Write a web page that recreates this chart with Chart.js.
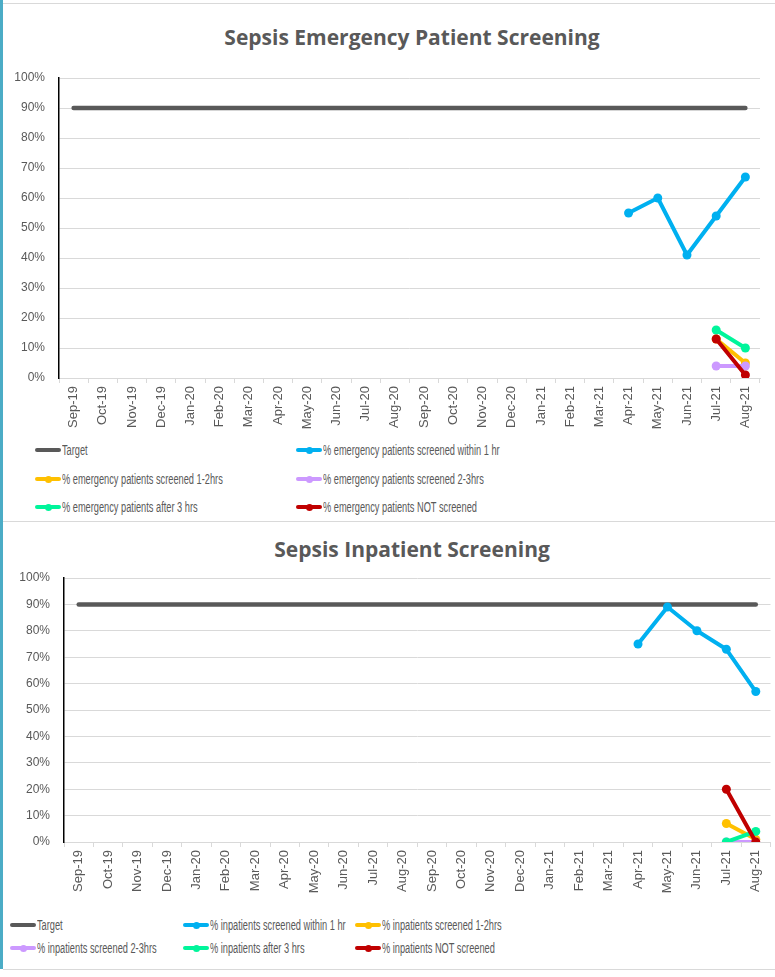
<!DOCTYPE html>
<html>
<head>
<meta charset="utf-8">
<script src="https://cdn.jsdelivr.net/npm/chart.js@4/dist/chart.umd.min.js"></script>
<style>
  html, body { margin: 0; padding: 0; background: #fff; }
  body { width: 775px; height: 977px; position: relative; overflow: hidden; font-family: "Liberation Sans", Arial, sans-serif; }
  .edge { position: absolute; left: 0; top: 0; width: 3px; height: 969px; background: #4bacc6; }
  .panel { position: absolute; left: 3px; width: 772px; border-top: 1px solid #d9d9d9; border-bottom: 1px solid #d9d9d9; box-sizing: border-box; }
  .title { position: absolute; left: 0; width: 824px; text-align: center; font-family: "Open Sans", Lato, sans-serif; font-weight: bold; font-size: 21px; color: #595959; white-space: nowrap; }
  canvas { position: absolute; left: 0; }
  .legend { position: absolute; font-size: 14px; color: #595959; }
  .item { position: absolute; white-space: nowrap; height: 16px; line-height: 16px; }
  .sw { position: absolute; left: 0; top: 6px; width: 26px; height: 4px; border-radius: 2px; }
  .sw i { position: absolute; left: 10px; top: -1.5px; width: 7px; height: 7px; border-radius: 50%; background: inherit; }
  .item span { position: absolute; left: 27px; top: 0; transform: scaleX(0.66); transform-origin: 0 50%; }
</style>
</head>
<body>
<div class="edge"></div>
<div class="panel" style="top:3px;height:519px;"></div>
<div class="panel" style="top:521px;height:449px;border-top:none;"></div>

<div class="title" style="top:23px;">Sepsis Emergency Patient Screening</div>
<canvas id="emergency" width="775" height="430" style="top:0;width:775px;height:430px;"></canvas>
<div class="legend" id="legendTop" style="left:0;top:0;"></div>

<div class="title" style="top:535px;">Sepsis Inpatient Screening</div>
<canvas id="inpatient" width="775" height="373" style="top:521px;width:775px;height:373px;"></canvas>
<div class="legend" id="legendBottom" style="left:0;top:0;"></div>

<script>
// Months on the x axis (shared by both charts)
const months = ["Sep-19","Oct-19","Nov-19","Dec-19","Jan-20","Feb-20","Mar-20","Apr-20","May-20","Jun-20","Jul-20","Aug-20",
                "Sep-20","Oct-20","Nov-20","Dec-20","Jan-21","Feb-21","Mar-21","Apr-21","May-21","Jun-21","Jul-21","Aug-21"];
const yTicks = [0,10,20,30,40,50,60,70,80,90,100];
const targetValue = 90;

// Emergency screening (%)
const emWithin1hr  = [55, 60, 41, 54, 67];   // Apr-21..Aug-21
const em1to2hrs    = [13, 5];                // Jul-21..Aug-21
const em2to3hrs    = [4, 4];
const emAfter3hrs  = [16, 10];
const emNotScreened= [13, 1];

// Inpatient screening (%)
const inWithin1hr  = [75, 89, 80, 73, 57];   // Apr-21..Aug-21
const in1to2hrs    = [7, 1];                 // Jul-21..Aug-21
const in2to3hrs    = [0, 0];
const inAfter3hrs  = [0, 4];
const inNotScreened= [20, 0];

const colors = {
  target: "#595959", within: "#00b0f0", h12: "#ffc000", h23: "#cc99ff", after3: "#00f59b", not: "#c00000"
};

function placeTail(values) {
  // values belong to the last N months
  const arr = new Array(months.length).fill(null);
  const start = months.length - values.length;
  values.forEach((v, i) => { arr[start + i] = v; });
  return arr;
}

// later series are painted over earlier ones
function series(label, data, color, layer, isTarget) {
  return {
    label, data, borderColor: color, backgroundColor: color,
    order: 10 - layer,
    borderWidth: isTarget ? 4.5 : 4,
    pointRadius: isTarget ? 0 : 4.5,
    pointHoverRadius: isTarget ? 0 : 4.5,
    pointBorderWidth: 0,
    borderCapStyle: "round", borderJoinStyle: "round",
    tension: 0, spanGaps: false
  };
}

const yFont = { family: "'Liberation Sans', Arial, sans-serif", size: 12 };
const xFont = { family: "'Liberation Sans', Arial, sans-serif", size: 13 };

function makeChart(id, datasets, yLeft, rightPad, topPad) {
  return new Chart(document.getElementById(id), {
    type: "line",
    data: { labels: months, datasets },
    options: {
      responsive: false, animation: false, events: [],
      layout: { padding: { left: 0, right: rightPad, top: topPad, bottom: 0 } },
      plugins: { legend: { display: false }, title: { display: false }, tooltip: { enabled: false } },
      scales: {
        x: {
          type: "category", offset: true,
          grid: { offset: true, drawOnChartArea: false, drawTicks: true, tickLength: 5, color: "#d9d9d9", lineWidth: 1 },
          border: { display: true, color: "#d9d9d9", width: 1 },
          ticks: { minRotation: 90, maxRotation: 90, autoSkip: false, padding: 3, color: "#595959", font: xFont },
          afterFit: s => { s.height = 52; }
        },
        y: {
          min: 0, max: 100,
          afterBuildTicks: s => { s.ticks = yTicks.map(v => ({ value: v })); },
          grid: { drawTicks: false, color: "#d9d9d9", lineWidth: 1 },
          border: { display: true, color: "#000000", width: 1.5 },
          ticks: { padding: 14, color: "#595959", font: yFont, callback: v => v + "%" },
          afterFit: s => { s.width = yLeft; }
        }
      }
    }
  });
}

const target = months.map(() => targetValue);

const emDatasets = [
  series("Target", target, colors.target, 0, true),
  series("% emergency patients screened within  1 hr", placeTail(emWithin1hr), colors.within, 1),
  series("% emergency patients screened 1-2hrs", placeTail(em1to2hrs), colors.h12, 2),
  series("% emergency patients screened 2-3hrs", placeTail(em2to3hrs), colors.h23, 3),
  series("% emergency patients after 3 hrs", placeTail(emAfter3hrs), colors.after3, 4),
  series("% emergency patients NOT screened", placeTail(emNotScreened), colors.not, 5)
];
const inDatasets = [
  series("Target", target, colors.target, 0, true),
  series("% inpatients screened within  1 hr", placeTail(inWithin1hr), colors.within, 1),
  series("% inpatients screened 1-2hrs", placeTail(in1to2hrs), colors.h12, 2),
  series("% inpatients screened 2-3hrs", placeTail(in2to3hrs), colors.h23, 3),
  series("% inpatients after 3 hrs", placeTail(inAfter3hrs), colors.after3, 4),
  series("% inpatients NOT screened", placeTail(inNotScreened), colors.not, 5)
];

makeChart("emergency", emDatasets, 59, 15, 78);
makeChart("inpatient", inDatasets, 64, 3, 57);

// HTML legends built from the dataset labels/colours
function buildLegend(el, datasets, slots) {
  datasets.forEach((ds, i) => {
    const [x, y] = slots[i];
    const item = document.createElement("div");
    item.className = "item";
    item.style.left = x + "px"; item.style.top = (y - 8) + "px";
    const sw = document.createElement("div");
    sw.className = "sw"; sw.style.background = ds.borderColor;
    if (ds.pointRadius > 0) sw.appendChild(document.createElement("i"));
    const tx = document.createElement("span");
    tx.textContent = ds.label;
    item.appendChild(sw); item.appendChild(tx);
    el.appendChild(item);
  });
}
buildLegend(document.getElementById("legendTop"), emDatasets,
  [[35,450],[296,450],[35,479],[296,479],[35,507],[296,507]]);
buildLegend(document.getElementById("legendBottom"), inDatasets,
  [[10,925],[183,925],[355,925],[10,948],[183,948],[355,948]]);
</script>
</body>
</html>
